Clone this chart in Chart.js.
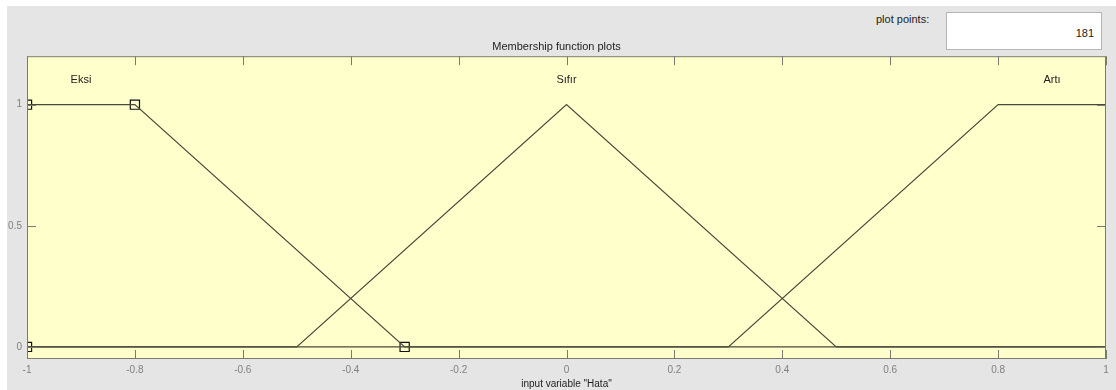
<!DOCTYPE html>
<html lang="en">
<head>
<meta charset="UTF-8">
<title>Membership function plots</title>
<script src="https://cdn.jsdelivr.net/npm/chart.js"></script>
<style>
  body { margin: 0; background: #fff; font-family: "Liberation Sans", Arial, sans-serif; }
  #panel { position: absolute; left: 7px; top: 6px; width: 1109px; height: 384px; background: #e5e5e5; }
  #chart { position: absolute; left: 0; top: 0; }
  .pp-label { position: absolute; left: 876px; top: 13px; font-size: 11px; color: #222; }
  .pp-box { position: absolute; left: 946px; top: 12px; width: 156px; height: 38px; background: #fff;
            border: 1px solid #b5b5b5; font-size: 11px; color: #222; text-align: right;
            box-sizing: border-box; padding-right: 7px; line-height: 40px; }
</style>
</head>
<body>
  <div id="panel"></div>
  <div class="pp-label">plot points:</div>
  <div class="pp-box">181</div>
  <canvas id="chart" width="1116" height="390"></canvas>

<script>
  // membership functions of input "Hata" (breakpoints)
  const eksiX = [-1, -0.8, -0.3, 1];
  const eksiY = [1, 1, 0, 0];
  const sifirX = [-1, -0.5, 0, 0.5, 1];
  const sifirY = [0, 0, 1, 0, 0];
  const artiX = [-1, 0.3, 0.8, 1];
  const artiY = [0, 0, 1, 1];

  // selected MF handles (Eksi)
  const handleX = [-1, -0.8, -0.3, -1];
  const handleY = [1, 1, 0, 0];

  const mfNames = ['Eksi', 'S\u0131f\u0131r', 'Art\u0131'];
  const mfLabelX = [-0.9, 0, 0.9];
  const mfLabelY = 1.1;

  const xTicks = [-1, -0.8, -0.6, -0.4, -0.2, 0, 0.2, 0.4, 0.6, 0.8, 1];
  const yTicks = [0, 0.5, 1];

  const lineColor = '#4a4a3c';
  const toPts = (xs, ys) => xs.map((x, i) => ({ x: x, y: ys[i] }));

  const axesBox = {
    id: 'axesBox',
    beforeDatasetsDraw(chart) {
      const a = chart.chartArea, ctx = chart.ctx;
      ctx.save();
      ctx.fillStyle = '#ffffcc';
      ctx.fillRect(a.left, a.top, a.right - a.left, a.bottom - a.top);
      ctx.restore();
    },
    afterDraw(chart) {
      const a = chart.chartArea, ctx = chart.ctx;
      const xs = chart.scales.x, ys = chart.scales.y;
      ctx.save();
      ctx.strokeStyle = '#7a7a70';
      ctx.lineWidth = 1;
      ctx.strokeRect(a.left + 0.5, a.top + 0.5, a.right - a.left - 1, a.bottom - a.top - 1);
      ctx.beginPath();
      xTicks.forEach(v => {
        const px = Math.round(xs.getPixelForValue(v)) + 0.5;
        ctx.moveTo(px, a.bottom); ctx.lineTo(px, a.bottom - 9);
        ctx.moveTo(px, a.top); ctx.lineTo(px, a.top + 9);
      });
      yTicks.forEach(v => {
        const py = Math.round(ys.getPixelForValue(v)) + 0.5;
        ctx.moveTo(a.left, py); ctx.lineTo(a.left + 9, py);
        ctx.moveTo(a.right, py); ctx.lineTo(a.right - 9, py);
      });
      ctx.stroke();

      // MF names
      ctx.fillStyle = '#222';
      ctx.font = '11px "Liberation Sans", Arial, sans-serif';
      ctx.textAlign = 'center';
      ctx.textBaseline = 'middle';
      mfNames.forEach((n, i) => {
        ctx.fillText(n, xs.getPixelForValue(mfLabelX[i]), ys.getPixelForValue(mfLabelY));
      });
      ctx.restore();
    }
  };

  const lineDs = (label, xs, ys) => ({
    label: label,
    data: toPts(xs, ys),
    showLine: true,
    borderColor: lineColor,
    borderWidth: 1.2,
    pointRadius: 0,
    tension: 0,
    clip: 0
  });

  new Chart(document.getElementById('chart'), {
    type: 'scatter',
    data: {
      datasets: [
        lineDs('Eksi', eksiX, eksiY),
        lineDs('Sifir', sifirX, sifirY),
        lineDs('Arti', artiX, artiY),
        {
          label: 'handles',
          data: toPts(handleX, handleY),
          showLine: false,
          pointStyle: 'rect',
          pointRadius: 6.5,
          pointBorderWidth: 1.2,
          pointBorderColor: '#111',
          pointBackgroundColor: 'rgba(0,0,0,0)',
          clip: 0
        }
      ]
    },
    options: {
      responsive: false,
      animation: false,
      layout: { padding: { left: 7, right: 10, top: 40, bottom: 0 } },
      plugins: {
        legend: { display: false },
        tooltip: { enabled: false },
        title: {
          display: true,
          text: 'Membership function plots',
          color: '#222',
          font: { size: 11, weight: 'normal', family: '"Liberation Sans", Arial, sans-serif' },
          padding: { top: 0, bottom: 3 }
        }
      },
      scales: {
        x: {
          type: 'linear',
          min: -1, max: 1,
          afterBuildTicks: s => { s.ticks = xTicks.map(v => ({ value: v })); },
          afterFit: s => { s.height = 31; },
          grid: { display: false, drawTicks: false },
          border: { display: false },
          ticks: {
            padding: 5,
            color: '#808080',
            maxRotation: 0,
            font: { size: 10, family: '"Liberation Sans", Arial, sans-serif' },
            callback: v => String(Math.round(v * 10) / 10)
          },
          title: {
            display: true,
            text: 'input variable "Hata"',
            color: '#222',
            font: { size: 10, family: '"Liberation Sans", Arial, sans-serif' },
            padding: { top: 0, bottom: 0 }
          }
        },
        y: {
          type: 'linear',
          min: -0.05, max: 1.2,
          afterBuildTicks: s => { s.ticks = yTicks.map(v => ({ value: v })); },
          afterFit: s => { s.width = 20; },
          grid: { display: false, drawTicks: false },
          border: { display: false },
          ticks: {
            padding: 5,
            color: '#808080',
            font: { size: 10, family: '"Liberation Sans", Arial, sans-serif' },
            callback: v => String(v)
          }
        }
      }
    },
    plugins: [axesBox]
  });
</script>
</body>
</html>
